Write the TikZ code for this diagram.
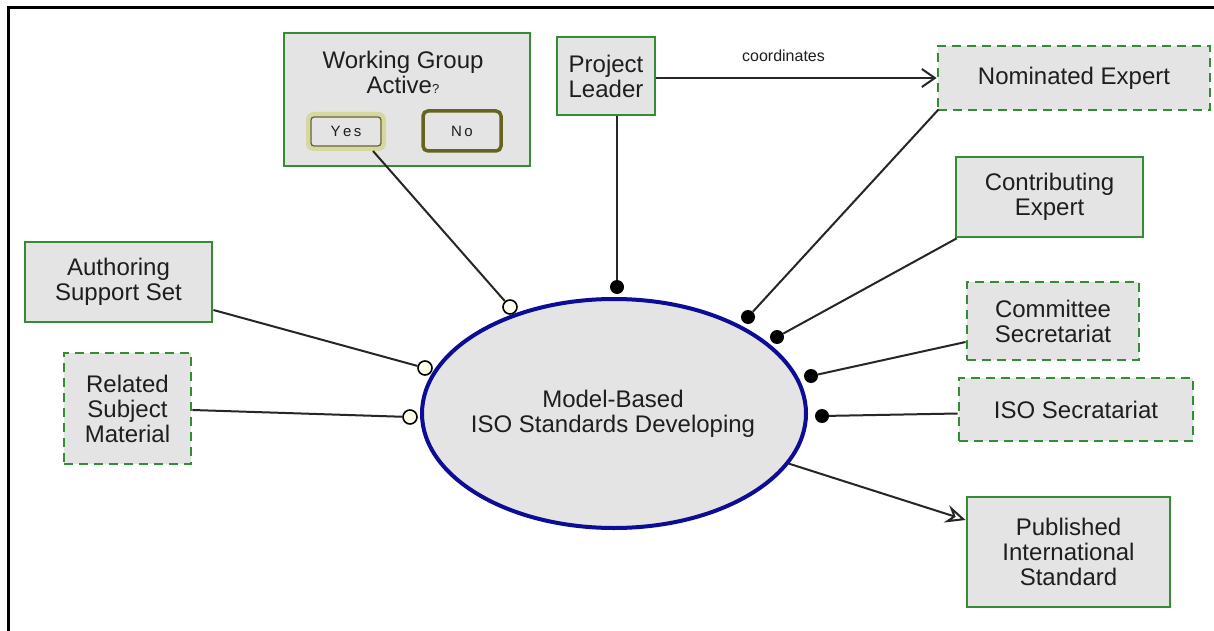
\documentclass[tikz,border=0pt]{standalone}
\usepackage{fontspec}
\setmainfont{Liberation Sans}
\usetikzlibrary{arrows.meta,shapes.geometric}
\definecolor{boxgreen}{RGB}{52,140,52}
\definecolor{boxgray}{RGB}{228,228,228}
\definecolor{textc}{RGB}{30,30,30}
\definecolor{elblue}{RGB}{12,12,150}
\definecolor{olive}{RGB}{100,100,30}
\definecolor{lightolive}{RGB}{215,215,160}
\newcommand{\boxfont}{\fontsize{24}{25}\selectfont}
\begin{document}
\begin{tikzpicture}[x=1pt,y=-1pt,
  box/.style={draw=boxgreen, line width=2.8pt, fill=boxgray, align=center, inner sep=0pt, font=\boxfont, text=textc},
  dbox/.style={box, dash pattern=on 9pt off 6pt},
  btn/.style={rounded corners=5pt, fill=boxgray, inner sep=0pt, font=\fontsize{15}{17}\selectfont, text=textc},
  conn/.style={draw=black!85, line width=2pt},
  fdot/.style={circle, fill=black, minimum size=14pt, inner sep=0pt},
  odot/.style={circle, draw=black, line width=1.6pt, fill=white!92!yellow, minimum size=14pt, inner sep=0pt}]
\useasboundingbox (0,0) rectangle (1214,631);
\fill[white] (0,0) rectangle (1214,631);
\draw[line width=3pt] (8,631) -- (8,8) -- (1214,8);

% working group box
\node[box, minimum width=246pt, minimum height=133pt] (wg) at (407,99.5) {};
\node[font=\boxfont, text=textc, align=center, inner sep=0pt] (wgt) at (403,72) {Working Group\\Active{\fontsize{13}{13}\selectfont ?}};
\node[btn, draw=lightolive, line width=4pt, minimum width=76pt, minimum height=35pt] (yes) at (346,131.5) {Y\,e\,s};
\draw[olive, line width=1.3pt, rounded corners=3pt] (311,117) rectangle (381,146);
\node[btn, draw=olive, line width=3.5pt, minimum width=78pt, minimum height=40pt] (no) at (462,131) {N\,o};

% boxes
\node[box, minimum width=98pt, minimum height=78pt] (pl) at (606,76) {Project\\Leader};
\node[dbox, minimum width=272pt, minimum height=64pt] (ne) at (1074,78) {Nominated Expert};
\node[box, minimum width=187pt, minimum height=80pt] (ce) at (1049.5,197) {Contributing\\Expert};
\node[dbox, minimum width=172pt, minimum height=78pt] (cs) at (1053,321) {Committee\\Secretariat};
\node[dbox, minimum width=234pt, minimum height=63pt] (iso) at (1076,409.5) {ISO Secratariat};
\node[box, minimum width=203pt, minimum height=110pt] (pub) at (1068.5,552) {Published\\International\\Standard};
\node[box, minimum width=187pt, minimum height=80pt] (as) at (118.5,282) {Authoring\\Support Set};
\node[dbox, minimum width=127pt, minimum height=111pt] (rs) at (127.5,408.5) {Related\\Subject\\Material};

% central ellipse
\node[ellipse, draw=elblue, line width=4pt, fill=boxgray, minimum width=384pt, minimum height=229pt, inner sep=0pt] (el) at (614,413.5) {};
\node[align=center, font=\boxfont, text=textc, inner sep=0pt] (elt) at (613,414) {Model-Based\\ISO Standards Developing};

% connectors with end markers
\node[odot] (wgdot) at (510,307) {};
\node[fdot] (pldot) at (617,287) {};
\node[fdot] (nedot) at (748,317) {};
\node[fdot] (cedot) at (777,337) {};
\node[fdot] (csdot) at (811,376) {};
\node[fdot] (isodot) at (822,416) {};
\node[odot] (asdot) at (425,368) {};
\node[odot] (rsdot) at (410,417) {};

\draw[conn] ([xshift=27pt]yes.south) -- (wgdot);
\draw[conn] (pldot |- pl.south) -- (pldot);
\draw[conn] ([xshift=2pt,yshift=2pt]ne.south west) -- (nedot);
\draw[conn] ([xshift=2pt]ce.south west) -- (cedot);
\draw[conn] ([yshift=-21pt]cs.west) -- (csdot);
\draw[conn] ([yshift=-4pt]iso.west) -- (isodot);
\draw[conn] ([yshift=-28pt]as.east) -- (asdot);
\draw[conn] ([yshift=-1.5pt]rs.east) -- (rsdot);

\draw[conn, -{Straight Barb[length=13pt,width=18pt,line width=2pt]}] (pl.east |- ne.west) -- node[above=12pt, xshift=-13pt, font=\fontsize{16}{18}\selectfont, text=textc] (lbl) {coordinates} (ne.west);
\draw[conn, -{Stealth[open,fill=white,length=20pt,width=18pt,inset=7pt]}] (el.-16) -- ([yshift=32pt]pub.west);
\end{tikzpicture}
\end{document}
